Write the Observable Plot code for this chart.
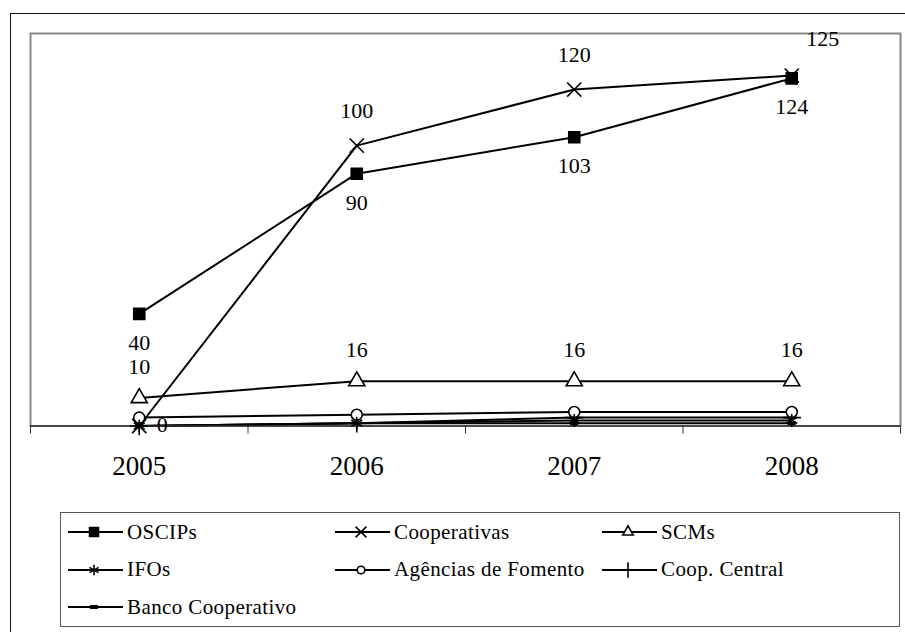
<!DOCTYPE html>
<html>
<head>
<meta charset="utf-8">
<script src="https://cdn.jsdelivr.net/npm/d3@7"></script>
<script src="https://cdn.jsdelivr.net/npm/@observablehq/plot@0.6"></script>
<style>
  html, body { margin: 0; padding: 0; background: #fff; }
  body { width: 905px; height: 632px; position: relative; overflow: hidden; font-family: "Liberation Serif", "Times New Roman", serif; }
  #outer { position: absolute; left: 10px; top: 13px; right: -20px; bottom: -20px; border-left: 1.5px solid #111; border-top: 1.5px solid #111; }
  #chart { position: absolute; left: 0; top: 0; }
  #legend { position: absolute; left: 60px; right: 5px; top: 512px; height: 115px; border: 1.2px solid #555; box-sizing: border-box; background: #fff; }
  .item { position: absolute; display: flex; align-items: center; height: 30px; font-size: 21px; letter-spacing: 0.4px; color: #000; white-space: nowrap; }
  .item svg { margin-right: 3px; }
</style>
</head>
<body>
<div id="outer"></div>
<div id="chart"></div>
<div id="legend"></div>
<script>
// ---- data ----
const years = [2005, 2006, 2007, 2008];
const seriesNames = ["OSCIPs", "Cooperativas", "SCMs", "IFOs", "Agências de Fomento", "Coop. Central", "Banco Cooperativo"];
const oscips = [40, 90, 103, 124];
const cooperativas = [0, 100, 120, 125];
const scms = [10, 16, 16, 16];
const ifos = [0, 1, 2, 2];
const agencias = [3, 4, 5, 5];
const coopCentral = [0, 1, 3, 3];
const bancoCooperativo = [0, 1, 1, 1];
const labeledSeries = ["OSCIPs", "Cooperativas", "SCMs"];

const allValues = [oscips, cooperativas, scms, ifos, agencias, coopCentral, bancoCooperativo];
const rows = seriesNames.flatMap((name, i) => allValues[i].map((v, j) => ({series: name, year: years[j], value: v})));
const bounds = years.map(y => y - 0.5).concat([years[years.length - 1] + 0.5]);

// custom dash symbol for "Banco Cooperativo"
const dashSymbol = {draw(ctx, size) { const w = 8, h = 4; ctx.moveTo(-w/2, -h/2); ctx.lineTo(w/2, -h/2); ctx.lineTo(w/2, h/2); ctx.lineTo(-w/2, h/2); ctx.closePath(); }};

const styles = {
  "OSCIPs": {symbol: "square", r: 6.2, fill: "#000", stroke: "#000"},
  "Cooperativas": {symbol: "times", r: 6.5, fill: "none", stroke: "#000"},
  "SCMs": {symbol: "triangle", r: 6, fill: "#fff", stroke: "#000"},
  "IFOs": {symbol: "asterisk", r: 6, fill: "none", stroke: "#000"},
  "Agências de Fomento": {symbol: "circle", r: 5.5, fill: "#fff", stroke: "#000"},
  "Coop. Central": {symbol: "plus", r: 6, fill: "none", stroke: "#000"},
  "Banco Cooperativo": {symbol: dashSymbol, r: 4, fill: "#000", stroke: "none"}
};

const font = "Liberation Serif";
const dots = seriesNames.slice().reverse().map(name => {
  const s = styles[name];
  return Plot.dot(rows.filter(d => d.series === name), {x: "year", y: "value", symbol: () => s.symbol, r: s.r, fill: s.fill, stroke: s.stroke, strokeWidth: 1.6});
});

const lab = rows.filter(d => labeledSeries.includes(d.series));
const txt = {text: d => String(d.value), x: "year", y: "value", fontSize: 22, fill: "#000", fontFamily: font};
const texts = [
  Plot.text(lab.filter(d => d.series === "OSCIPs"), {...txt, dy: 29}),
  Plot.text(lab.filter(d => d.series === "SCMs"), {...txt, dy: -31}),
  Plot.text(lab.filter(d => d.series === "Cooperativas" && d.year !== years[0] && d.year !== years[3]), {...txt, dy: -35}),
  Plot.text(lab.filter(d => d.series === "Cooperativas" && d.year === years[3]), {...txt, dx: 31, dy: -37}),
  Plot.text(lab.filter(d => d.series === "Cooperativas" && d.year === years[0]), {...txt, dx: 23, dy: -1})
];

const chart = Plot.plot({
  width: 905,
  height: 490,
  marginLeft: 30,
  marginRight: 5,
  marginTop: 33,
  marginBottom: 64.5,
  style: {background: "none", fontFamily: font, color: "#000"},
  x: {type: "linear", domain: [bounds[0], bounds[bounds.length - 1]], label: null},
  y: {domain: [0, 140], axis: null, label: null},
  marks: [
    Plot.frame({stroke: "#888", strokeWidth: 2}),
    Plot.axisX(bounds, {tickSize: 8, tickFormat: () => "", stroke: "#333", strokeWidth: 1, label: null}),
    Plot.axisX(years, {tickSize: 0, tickPadding: 30, fontSize: 27, fontFamily: font, fill: "#000", tickFormat: d => String(d), label: null}),
    Plot.line(rows, {x: "year", y: "value", z: "series", stroke: "#000", strokeWidth: 2}),
    Plot.ruleY([0], {stroke: "#333", strokeWidth: 1.5}),
    ...dots,
    ...texts
  ]
});
document.getElementById("chart").appendChild(chart);

// ---- legend ----
const legend = document.getElementById("legend");
const symGen = {
  "square": d3.symbolSquare, "times": d3.symbolTimes, "triangle": d3.symbolTriangle2,
  "asterisk": d3.symbolAsterisk, "circle": d3.symbolCircle, "plus": d3.symbolPlus
};
seriesNames.forEach((name, i) => {
  const s = styles[name];
  const col = i % 3, row = Math.floor(i / 3);
  const item = document.createElement("div");
  item.className = "item";
  item.style.left = (6 + col * 267) + "px";
  item.style.top = (4 + row * 37.5) + "px";
  const ns = "http://www.w3.org/2000/svg";
  const svg = document.createElementNS(ns, "svg");
  svg.setAttribute("width", 57); svg.setAttribute("height", 30);
  const line = document.createElementNS(ns, "line");
  line.setAttribute("x1", 1); line.setAttribute("x2", 56); line.setAttribute("y1", 15); line.setAttribute("y2", 15);
  line.setAttribute("stroke", "#000"); line.setAttribute("stroke-width", 2);
  svg.appendChild(line);
  const path = document.createElementNS(ns, "path");
  const type = typeof s.symbol === "string" ? symGen[s.symbol] : s.symbol;
  const lr = name === "Agências de Fomento" ? 3.8 : 5;
  path.setAttribute("d", d3.symbol(type, Math.PI * lr * lr)());
  path.setAttribute("transform", "translate(27,15)");
  path.setAttribute("fill", s.fill); path.setAttribute("stroke", s.stroke); path.setAttribute("stroke-width", 1.6);
  svg.appendChild(path);
  item.appendChild(svg);
  const span = document.createElement("span");
  span.textContent = name;
  item.appendChild(span);
  legend.appendChild(item);
});
</script>
</body>
</html>
